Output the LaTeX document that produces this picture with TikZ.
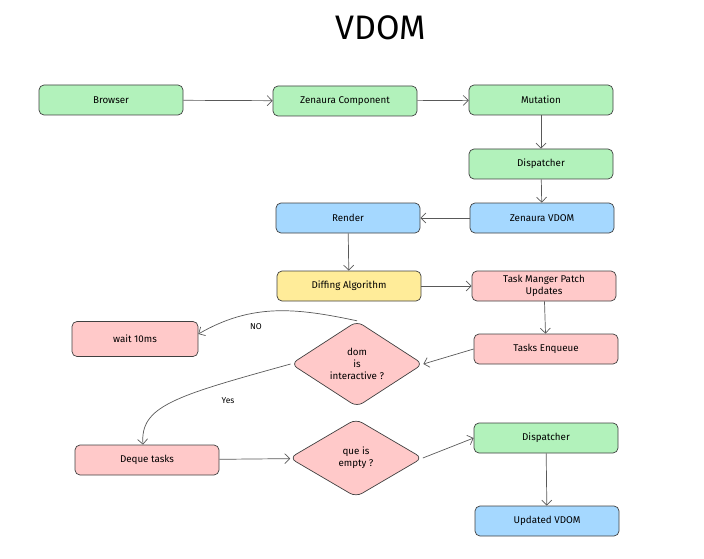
\documentclass[tikz,border=0pt]{standalone}
\usepackage{fontspec}
\setmainfont{Fira Sans}
\usepackage{xcolor}
\usetikzlibrary{arrows.meta,shapes.geometric}

\definecolor{greenfill}{HTML}{B2F2BB}
\definecolor{bluefill}{HTML}{A5D8FF}
\definecolor{yellowfill}{HTML}{FFEC99}
\definecolor{redfill}{HTML}{FFC9C9}

\begin{document}
\begin{tikzpicture}[x=1pt,y=1pt,
        box/.style={draw=black!75,line width=0.7pt,rounded corners=5pt,minimum width=144pt,minimum height=30pt,inner sep=1pt,align=center,font=\fontsize{9.8}{11.5}\selectfont},
        cond/.style={diamond,draw=black!75,line width=0.7pt,rounded corners=7pt,fill=redfill,inner sep=0pt,align=center,font=\fontsize{9.8}{12}\selectfont},
        link/.style={draw=black!65,line width=0.7pt,-{Straight Barb[length=5pt,width=10pt]}},
        lbl/.style={font=\fontsize{8.5}{9}\selectfont}]
        \useasboundingbox (0,0) rectangle (704,558);
        \node[font=\fontsize{34}{36}\selectfont] (title) at (381,530) {VDOM};
        % top row
        \node[box,fill=greenfill] (browser) at (111,458) {Browser};
        \node[box,fill=greenfill] (comp) at (345,457) {Zenaura Component};
        \node[box,fill=greenfill] (mutation) at (541,458) {Mutation};
        \node[box,fill=greenfill] (disp) at (541,394) {Dispatcher};
        \node[box,fill=bluefill] (zvdom) at (542,340) {Zenaura VDOM};
        \node[box,fill=bluefill] (render) at (348,340) {Render};
        \node[box,fill=yellowfill] (diff) at (349,272) {Diffing Algorithm};
        \node[box,fill=redfill] (taskmgr) at (544,272) {Task Manger Patch\\Updates};
        \node[box,fill=redfill] (enqueue) at (546,209) {Tasks Enqueue};
        % decisions
        \node[box,fill=redfill,minimum width=126pt,minimum height=35pt] (wait) at (135,219) {wait 10ms};
        \node[cond,minimum width=132pt,minimum height=82pt] (dom) at (357,194) {dom\\is\\interactive ?};
        \node[box,fill=redfill] (deque) at (147,98) {Deque tasks};
        \node[cond,minimum width=133pt,minimum height=78pt] (que) at (356,100) {que is\\empty ?};
        \node[box,fill=greenfill] (disp2) at (546,120) {Dispatcher};
        \node[box,fill=bluefill] (updated) at (547,37) {Updated VDOM};
        \node[lbl] (no) at (256,231) {NO};
        \node[lbl] (yes) at (228,157) {Yes};
        % arrows
        \draw[link] (browser) -- (comp);
        \draw[link] (comp) -- (mutation);
        \draw[link] (mutation) -- (disp);
        \draw[link] (disp) -- (zvdom);
        \draw[link] (zvdom) -- (render);
        \draw[link] (render) -- (diff);
        \draw[link] (diff) -- (taskmgr);
        \draw[link] (taskmgr) -- (enqueue);
        \draw[link] (enqueue.west) -- (dom.east);
        \draw[link] (dom.north) to[out=168,in=30] ([yshift=5pt]wait.east);
        \draw[link] (dom.west) .. controls (175,162) and (140,152) .. ([xshift=-4pt]deque.north);
        \draw[link] (deque) -- (que);
        \draw[link] (que.east) -- (disp2.west);
        \draw[link] (disp2) -- (updated);
\end{tikzpicture}
\end{document}
